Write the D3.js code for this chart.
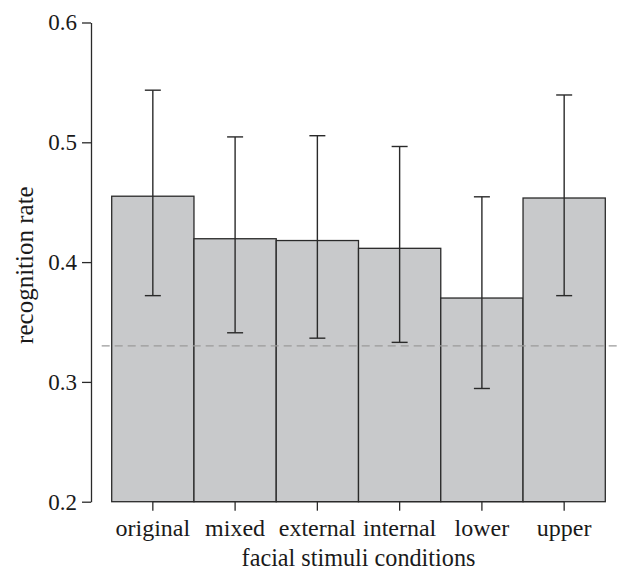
<!DOCTYPE html>
<html>
<head>
<meta charset="utf-8">
<script src="https://cdn.jsdelivr.net/npm/d3@7"></script>
<style>
  body { margin: 0; background: #fff; }
  svg text { font-family: 'Liberation Serif', 'DejaVu Serif', serif; fill: #1a1a1a; }
</style>
</head>
<body>
<div id="chart"></div>
<script>
const conditions = ['original', 'mixed', 'external', 'internal', 'lower', 'upper'];
const rates = [0.455, 0.4195, 0.418, 0.4115, 0.370, 0.4535];
const errLow = [0.372, 0.341, 0.3365, 0.333, 0.2945, 0.372];
const errHigh = [0.5435, 0.5045, 0.5055, 0.4965, 0.4545, 0.5395];
const yTicks = [0.2, 0.3, 0.4, 0.5, 0.6];
const chanceLevel = 0.33;

const width = 628;
const height = 572;

const svg = d3.select('#chart')
  .append('svg')
  .attr('width', width)
  .attr('height', height);

const x = d3.scaleBand()
  .domain(conditions)
  .range([111.7, 605.3])
  .padding(0);

const y = d3.scaleLinear()
  .domain([0.2, 0.6])
  .range([501.7, 22.5]);

const ink = '#2a2a2a';

// bars
svg.selectAll('rect.bar')
  .data(conditions)
  .enter()
  .append('rect')
  .attr('class', 'bar')
  .attr('x', d => x(d))
  .attr('y', (d, i) => y(rates[i]))
  .attr('width', x.bandwidth())
  .attr('height', (d, i) => y(0.2) - y(rates[i]))
  .attr('fill', '#c8c9cb')
  .attr('stroke', ink)
  .attr('stroke-width', 1.3);

// chance line
svg.append('line')
  .attr('x1', 101.7)
  .attr('x2', 621.7)
  .attr('y1', y(chanceLevel))
  .attr('y2', y(chanceLevel))
  .attr('stroke', '#9a9a9a')
  .attr('stroke-width', 1.2)
  .attr('stroke-dasharray', '8,5');

// error bars
const cap = 8;
const errs = svg.append('g')
  .selectAll('g')
  .data(conditions)
  .enter()
  .append('g')
  .attr('stroke', ink)
  .attr('stroke-width', 1.4);

errs.append('line')
  .attr('x1', d => x(d) + x.bandwidth() / 2)
  .attr('x2', d => x(d) + x.bandwidth() / 2)
  .attr('y1', (d, i) => y(errLow[i]))
  .attr('y2', (d, i) => y(errHigh[i]));

errs.append('line')
  .attr('x1', d => x(d) + x.bandwidth() / 2 - cap)
  .attr('x2', d => x(d) + x.bandwidth() / 2 + cap)
  .attr('y1', (d, i) => y(errHigh[i]))
  .attr('y2', (d, i) => y(errHigh[i]));

errs.append('line')
  .attr('x1', d => x(d) + x.bandwidth() / 2 - cap)
  .attr('x2', d => x(d) + x.bandwidth() / 2 + cap)
  .attr('y1', (d, i) => y(errLow[i]))
  .attr('y2', (d, i) => y(errLow[i]));

// y axis
const yAxis = svg.append('g')
  .attr('transform', 'translate(91,0)')
  .call(d3.axisLeft(y).tickValues(yTicks).tickFormat(d3.format('.1f')).tickSize(9).tickSizeOuter(0).tickPadding(5));

// x axis, line only between first and last tick
const xAxis = svg.append('g')
  .attr('transform', `translate(0,${y(0.2)})`)
  .call(d3.axisBottom(x).tickSize(9).tickSizeOuter(0).tickPadding(8));

const c0 = x(conditions[0]) + x.bandwidth() / 2;
const c1 = x(conditions[conditions.length - 1]) + x.bandwidth() / 2;
xAxis.select('.domain').attr('d', `M${c0},0H${c1}`);

[yAxis, xAxis].forEach(g => {
  g.selectAll('.domain').attr('stroke', ink).attr('stroke-width', 1.3);
  g.selectAll('.tick line').attr('stroke', ink).attr('stroke-width', 1.3);
  g.selectAll('.tick text')
    .attr('fill', '#1a1a1a')
    .style('font-family', "'Liberation Serif', serif");
});
yAxis.selectAll('.tick text').style('font-size', '23px');
xAxis.selectAll('.tick text').style('font-size', '24px');

// axis titles
svg.append('text')
  .attr('x', (x.range()[0] + x.range()[1]) / 2)
  .attr('y', 566)
  .attr('text-anchor', 'middle')
  .style('font-size', '24.2px')
  .text('facial stimuli conditions');

svg.append('text')
  .attr('transform', `translate(33,${y(0.4) + 3}) rotate(-90)`)
  .attr('text-anchor', 'middle')
  .style('font-size', '25px')
  .text('recognition rate');
</script>
</body>
</html>
